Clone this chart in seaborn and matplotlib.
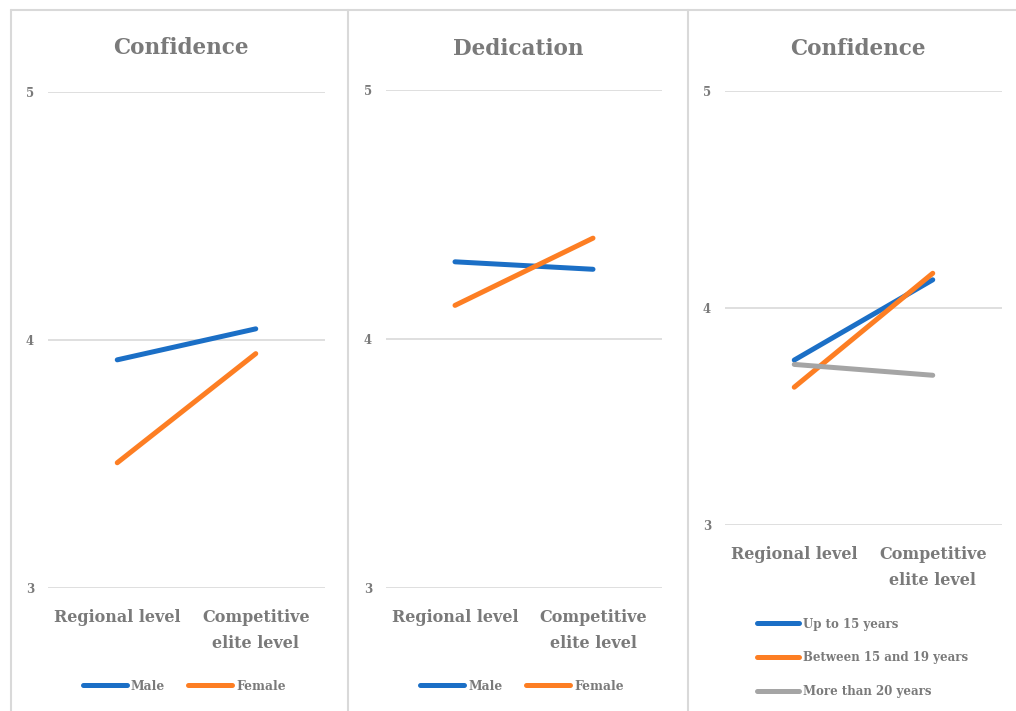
import matplotlib
matplotlib.use("Agg")
import matplotlib.pyplot as plt
from matplotlib.lines import Line2D
import pandas as pd
import seaborn as sns

sns.set_theme(style="white")
plt.rcParams["font.family"] = ["DejaVu Serif"]
plt.rcParams["font.weight"] = "bold"

levels = ["Regional level", "Competitive\nelite level"]

# Panel 1: confidence by gender
conf_gender = ["Male", "Female"]
conf_male = [3.92, 4.045]
conf_female = [3.505, 3.945]

# Panel 2: dedication by gender
ded_gender = ["Male", "Female"]
ded_male = [4.31, 4.28]
ded_female = [4.135, 4.405]

# Panel 3: confidence by years of practice
conf_years = ["Up to 15 years", "Between 15 and 19 years", "More than 20 years"]
conf_up15 = [3.76, 4.13]
conf_15_19 = [3.635, 4.16]
conf_20plus = [3.74, 3.69]

titles = ["Confidence", "Dedication", "Confidence"]
yticks = [3, 4, 5]

BLUE = "#1b6fc6"
ORANGE = "#fd7e23"
GRAY = "#a5a5a5"
TEXT = "#7a7a7a"
GRID = "#d9d9d9"


def long_frame(groups, series):
    rows = []
    for g, vals in zip(groups, series):
        for i, v in enumerate(vals):
            rows.append({"group": g, "level": i, "score": v})
    return pd.DataFrame(rows)


W, H = 1016, 711
fig = plt.figure(figsize=(W / 100, H / 100), dpi=100)

# panel frames
for x in (11, 348, 688):
    fig.add_artist(Line2D([x / W, x / W], [0, 1 - 10 / H], color=GRID, lw=1.5,
                          transform=fig.transFigure))
fig.add_artist(Line2D([11 / W, 1], [1 - 10 / H, 1 - 10 / H], color=GRID, lw=1.5,
                      transform=fig.transFigure))

# (left, right, top, bottom) in pixels for each plot area
boxes = [(48, 325, 92, 588), (386, 662, 90, 588), (725, 1002, 91, 525)]
title_pads = [27, 25, 26]
title_centers = [181, 518, 858]
panels = [
    (conf_gender, [conf_male, conf_female], [BLUE, ORANGE]),
    (ded_gender, [ded_male, ded_female], [BLUE, ORANGE]),
    (conf_years, [conf_up15, conf_15_19, conf_20plus], [BLUE, ORANGE, GRAY]),
]

for k, ((l, r, t, b), (groups, series, colors)) in enumerate(zip(boxes, panels)):
    ax = fig.add_axes([l / W, 1 - b / H, (r - l) / W, (b - t) / H])
    df = long_frame(groups, series)
    sns.lineplot(data=df, x="level", y="score", hue="group", hue_order=groups,
                 palette=colors, lw=3.6, ax=ax, legend=True,
                 solid_capstyle="round")
    ax.set_xlim(-0.5, 1.5)
    ax.set_ylim(3, 5)
    ax.set_yticks(yticks)
    ax.set_yticklabels([str(v) for v in yticks], fontsize=8.5, color=TEXT,
                       fontweight="bold")
    ax.set_xticks([0, 1])
    ax.set_xticklabels(levels, fontsize=11.5, color=TEXT, fontweight="bold",
                       linespacing=1.7)
    ax.tick_params(axis="x", length=0, pad=15)
    ax.tick_params(axis="y", length=0, pad=10)
    ax.grid(axis="y", color=GRID, lw=1.2)
    ax.set_axisbelow(True)
    for s in ax.spines.values():
        s.set_visible(False)
    ax.set_xlabel("")
    ax.set_ylabel("")
    ax.set_title(titles[k], fontsize=15.5, color=TEXT, fontweight="bold",
                 pad=title_pads[k], x=(title_centers[k] - l) / (r - l))
    ax.get_legend().remove()
    handles = [Line2D([0], [0], color=c, lw=3.6, solid_capstyle="round")
               for c in colors]
    if k < 2:
        cx = (l + r) / 2 / W
        fig.legend(handles, groups, loc="center", ncol=2, frameon=False,
                   bbox_to_anchor=(cx - 2 / W, 1 - 686 / H),
                   labelcolor=TEXT, handlelength=3.6, handletextpad=0.35,
                   columnspacing=1.9, prop={"weight": "bold", "size": 8.8})
    else:
        fig.legend(handles, groups, loc="upper left", ncol=1, frameon=False,
                   bbox_to_anchor=(746 / W, 1 - 607 / H),
                   labelcolor=TEXT, handlelength=3.6, handletextpad=0.35,
                   labelspacing=1.75, prop={"weight": "bold", "size": 8.5})

fig.savefig("out.png", dpi=100, facecolor="white")
